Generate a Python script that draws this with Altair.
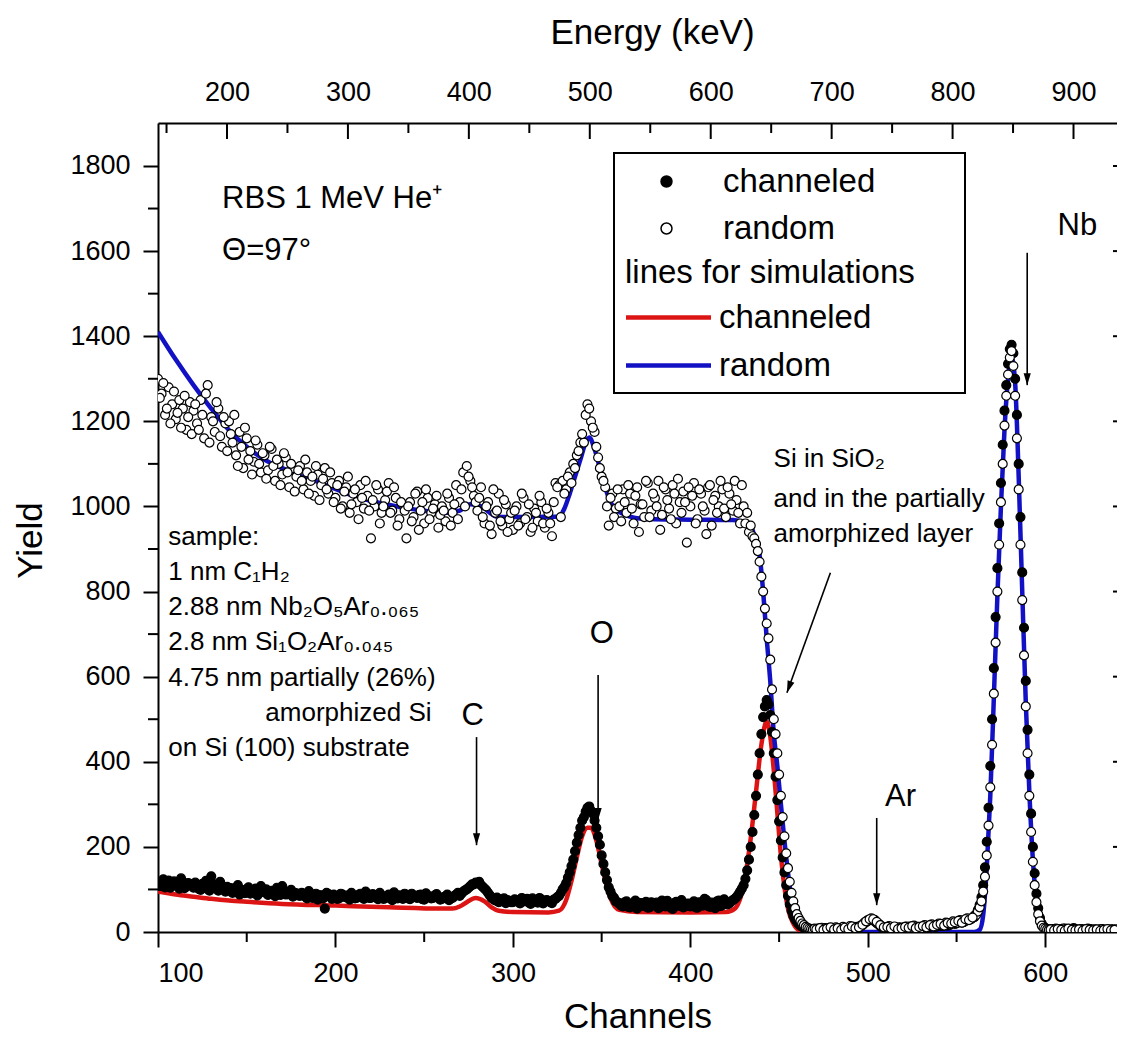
import altair as alt
import pandas as pd

FONT = "Liberation Sans"

# ---------------- data ----------------
# measured spectra, even channels (every channel on the steep edges)
meas_ch = (list(range(100, 430, 2)) + list(range(430, 470)) + list(range(470, 562, 2))
           + list(range(561, 602)) + list(range(602, 642, 2)))
# measured spectra, odd channels of the flat parts
meas_ch_odd = list(range(101, 430, 2)) + list(range(471, 560, 2)) + list(range(603, 640, 2))

random_yield = [
    1300, 1265, 1215, 1280, 1240, 1205, 1250, 1230, 1180, 1245,
    1225, 1195, 1250, 1160, 1285, 1210, 1175, 1230, 1140, 1195,
    1200, 1150, 1120, 1175, 1090, 1160, 1130, 1105, 1145, 1080,
    1120, 1085, 1135, 1060, 1100, 1075, 1115, 1045, 1090, 1070,
    1095, 1040, 1080, 1060, 1025, 1075, 1050, 1090, 1030, 1055,
    1020, 1060, 1000, 1045, 985, 1030, 1010, 1050, 995, 1025,
    925, 1000, 1040, 985, 1015, 1055, 990, 1020, 970, 1005,
    925, 1010, 975, 1035, 990, 960, 1020, 985, 1005, 950,
    1000, 965, 1020, 985, 1050, 1010, 1080, 1095, 1060, 1025,
    990, 1045, 960, 1010, 935, 985, 1030, 955, 1005, 970,
    945, 1000, 960, 1020, 975, 940, 995, 965, 1010, 950,
    985, 930, 1055, 1050, 1060, 1040, 1080, 1100, 1120, 1150,
    1150, 1240, 1200, 1175, 1115, 1070, 1045, 955, 1030, 995,
    1000, 1040, 985, 1030, 960, 1045, 1005, 975, 1055, 990,
    1020, 1060, 980, 1040, 995, 1050, 960, 1010, 1035, 915,
    1000, 1055, 970, 1030, 990, 1045, 955, 1025, 1000, 1040,
    975, 1030, 990, 1015, 960,
    # 430-469
    1000, 960, 985, 940, 955, 930, 925, 912, 895, 870,
    835, 800, 760, 725, 690, 640, 570, 500, 465, 420,
    370, 320, 270, 225, 185, 150, 118, 92, 72, 56,
    42, 33, 26, 20, 16, 12, 10, 8, 7, 6,
    # 470-560 step 2
    8, 5, 10, 6, 9, 4, 11, 7, 12, 8, 14, 10, 12, 15, 22, 28, 32, 28, 20, 13,
    9, 14, 8, 11, 6, 10, 13, 8, 15, 11, 9, 16, 12, 18, 14, 20, 16, 22, 18, 25,
    21, 28, 24, 32, 30, 38,
    # 561-601
    40, 48, 58, 72, 95, 130, 180, 250, 340, 440,
    560, 680, 800, 910, 1010, 1100, 1190, 1260, 1310, 1350,
    1365, 1330, 1260, 1160, 1040, 910, 780, 650, 530, 420,
    320, 235, 165, 110, 70, 42, 25, 15, 10, 8, 6,
    # 602-640 step 2
    5, 7, 4, 6, 8, 5, 3, 6, 4, 7, 5, 3, 6, 4, 5, 7, 3, 5, 4, 6,
]
random_yield_odd = [
    1255, 1290, 1230, 1195, 1270, 1220, 1185, 1260, 1210, 1170,
    1240, 1180, 1215, 1265, 1150, 1200, 1245, 1165, 1210, 1130,
    1170, 1215, 1095, 1140, 1185, 1110, 1075, 1155, 1100, 1125,
    1065, 1140, 1095, 1110, 1050, 1125, 1080, 1100, 1035, 1085,
    1060, 1110, 1030, 1070, 1095, 1015, 1065, 1040, 1080, 1010,
    1050, 995, 1035, 1070, 1005, 1040, 970, 1020, 1060, 990,
    1015, 1050, 960, 1000, 1035, 985, 1045, 955, 1010, 990,
    1000, 965, 1030, 945, 1010, 1040, 970, 995, 1025, 980,
    990, 1030, 955, 1005, 970, 1040, 1000, 1070, 1045, 1010,
    1020, 975, 1000, 955, 1040, 990, 965, 1015, 940, 985,
    990, 955, 1030, 970, 1005, 950, 985, 1025, 960, 995,
    960, 1010, 1045, 975, 1030, 1070, 1055, 1090, 1130, 1170,
    1215, 1230, 1185, 1140, 1090, 1060, 1000, 1020, 975, 1040,
    965, 1010, 1050, 995, 1025, 940, 1005, 1060, 975, 1030,
    1000, 945, 1045, 1015, 970, 1030, 1065, 985, 1010, 1045,
    1025, 960, 1040, 1000, 935, 1050, 1015, 985, 1060, 995,
    1045, 1005, 1060, 985, 1050,
    # 471-559 step 2
    6, 9, 5, 8, 11, 6, 9, 5, 10, 7, 13, 9, 11, 17, 25, 30, 30, 24, 16, 11,
    12, 9, 13, 7, 9, 12, 10, 14, 9, 12, 14, 11, 16, 13, 17, 19, 15, 21, 20, 23,
    26, 22, 30, 28, 34,
    # 603-639 step 2
    6, 4, 7, 5, 3, 8, 5, 4, 6, 3, 7, 5, 4, 6, 3, 5, 7, 4, 5,
]

channeled_yield = [
    112, 118, 105, 121, 109, 115, 102, 117, 108, 113,
    104, 110, 99, 106, 101, 131, 112, 97, 108, 95,
    98, 92, 104, 88, 95, 101, 90, 96, 86, 108,
    93, 87, 97, 84, 90, 108, 88, 94, 83, 91,
    85, 90, 79, 88, 82, 76, 86, 55, 89, 78,
    84, 79, 88, 81, 76, 86, 80, 90, 78, 83,
    80, 86, 77, 84, 79, 88, 75, 82, 86, 78,
    83, 77, 85, 80, 88, 76, 82, 79, 86, 81,
    78, 84, 75, 80, 88, 85, 95, 100, 108, 112,
    115, 110, 102, 92, 80, 74, 70, 76, 68, 73,
    70, 75, 67, 72, 78, 66, 74, 69, 76, 71,
    73, 68, 78, 85, 100, 115, 140, 170, 210, 245,
    270, 292, 285, 262, 225, 180, 140, 105, 85, 72,
    66, 60, 72, 58, 64, 55, 68, 61, 57, 70,
    63, 56, 74, 60, 67, 54, 71, 62, 58, 66,
    60, 72, 57, 65, 78, 61, 69, 56, 74, 63,
    70, 68, 75, 82, 95,
    # 430-469
    110, 125, 145, 170, 200, 235, 275, 320, 370, 420,
    465, 505, 530, 545, 535, 510, 470, 420, 365, 310,
    260, 215, 175, 140, 110, 85, 65, 50, 38, 30,
    24, 19, 15, 12, 10, 9, 8, 7, 6, 6,
    # 470-560 step 2
    6, 8, 5, 9, 4, 7, 10, 6, 8, 5, 9, 12, 8, 14, 20, 26, 30, 25, 18, 11,
    8, 12, 6, 9, 11, 7, 10, 13, 8, 12, 9, 14, 11, 15, 12, 17, 14, 19, 16, 22,
    20, 25, 23, 28, 30, 35,
    # 561-601
    42, 52, 64, 82, 110, 152, 212, 292, 390, 500,
    620, 740, 855, 960, 1055, 1145, 1225, 1285, 1335, 1370,
    1380, 1360, 1300, 1215, 1100, 975, 845, 715, 590, 475,
    370, 278, 200, 138, 90, 56, 33, 20, 13, 9, 7,
    # 602-640 step 2
    6, 4, 8, 5, 7, 3, 6, 9, 4, 6, 5, 8, 4, 6, 3, 7, 5, 4, 6, 5,
]
channeled_yield_odd = [
    108, 124, 113, 104, 119, 111, 126, 103, 115, 109,
    116, 101, 113, 120, 97, 110, 104, 118, 100, 106,
    103, 96, 110, 99, 91, 105, 97, 102, 94, 99,
    100, 91, 96, 104, 87, 95, 89, 99, 92, 86,
    92, 83, 96, 80, 90, 86, 79, 92, 84, 88,
    78, 90, 83, 86, 92, 79, 87, 82, 95, 80,
    89, 83, 92, 78, 85, 81, 93, 79, 84, 90,
    79, 90, 82, 87, 77, 91, 84, 80, 89, 76,
    82, 88, 79, 85, 92, 90, 98, 104, 112, 116,
    118, 106, 98, 86, 77, 81, 72, 79, 75, 70,
    77, 71, 80, 73, 69, 79, 72, 80, 67, 75,
    70, 76, 82, 92, 106, 128, 155, 190, 228, 262,
    283, 295, 278, 245, 205, 160, 122, 95, 80, 70,
    62, 70, 59, 66, 74, 60, 65, 71, 58, 64,
    69, 59, 65, 73, 57, 68, 62, 75, 60, 67,
    66, 58, 70, 62, 75, 59, 67, 72, 61, 77,
    65, 72, 78, 88, 102,
    # 471-559 step 2
    7, 5, 8, 6, 9, 5, 8, 7, 6, 10, 8, 11, 10, 16, 23, 28, 27, 21, 14, 9,
    10, 7, 11, 8, 6, 12, 9, 11, 10, 8, 13, 10, 12, 16, 13, 15, 18, 15, 21, 19,
    24, 22, 26, 29, 33,
    # 603-639 step 2
    4, 7, 5, 6, 8, 4, 5, 7, 3, 6, 4, 7, 5, 3, 6, 4, 5, 6, 4,
]

# simulations
sim_chan_ch = [100, 110, 120, 130, 140, 150, 170, 200, 230, 260,
               266, 270, 274, 279, 284, 288, 292, 300, 320, 326,
               330, 333, 336, 339, 342, 344, 347, 350, 353, 356,
               360, 370, 400, 420, 425, 430, 434, 437, 440, 443,
               445, 447, 449, 451, 453, 455, 458, 461, 465, 470]
sim_chan_y = [95, 88, 83, 78, 74, 71, 66, 62, 58, 55,
              55, 60, 70, 80, 72, 58, 50, 47, 46, 50,
              75, 120, 175, 225, 245, 245, 215, 160, 105, 70,
              52, 47, 46, 47, 55, 110, 220, 330, 440, 495,
              460, 380, 280, 180, 105, 55, 20, 5, 1, 0]

sim_rand_ch = [100, 110, 120, 130, 141, 150, 160, 170, 180, 190,
               197, 210, 225, 240, 250, 263, 270, 276, 282, 291,
               300, 326, 329, 332, 335, 338, 341, 343, 346, 349,
               352, 355, 358, 362, 366, 370, 380, 400, 424, 430,
               433, 435, 437, 439, 441, 443, 445, 447, 449, 451,
               453, 455, 457, 459, 461, 464, 468, 480, 520, 560,
               563, 565, 567, 569, 571, 573, 575, 577, 579, 581,
               583, 585, 587, 589, 591, 593, 595, 597, 599, 602, 641]
sim_rand_y = [1410, 1345, 1285, 1230, 1175, 1140, 1110, 1090, 1072, 1058,
              1046, 1025, 1008, 996, 990, 985, 990, 1005, 1000, 976,
              975, 976, 995, 1030, 1070, 1110, 1150, 1162, 1135, 1090,
              1045, 1010, 993, 983, 976, 972, 970, 969, 968, 963,
              955, 945, 915, 885, 800, 690, 590, 467, 390, 300,
              215, 140, 80, 40, 15, 3, 0, 0, 0, 0,
              5, 40, 150, 320, 550, 790, 1000, 1180, 1300, 1350,
              1290, 1070, 800, 540, 330, 170, 70, 25, 8, 0, 0]

assert len(meas_ch) == len(random_yield) == len(channeled_yield)
assert len(meas_ch_odd) == len(random_yield_odd) == len(channeled_yield_odd)
assert len(sim_chan_ch) == len(sim_chan_y)
assert len(sim_rand_ch) == len(sim_rand_y)

x_ticks = [100, 200, 300, 400, 500, 600]
x_minor = [150, 250, 350, 450, 550]
y_ticks = [0, 200, 400, 600, 800, 1000, 1200, 1400, 1600, 1800]
y_minor = [100, 300, 500, 700, 900, 1100, 1300, 1500, 1700]
e_ticks = [200, 300, 400, 500, 600, 700, 800, 900]
e_minor = [150, 250, 350, 450, 550, 650, 750, 850]

CH_DOMAIN = [100, 640.4]
E_DOMAIN = [142.95, 935.96]   # energy calibration of the top axis
Y_DOMAIN = [0, 1901]

# annotations (data coordinates)
left_texts = [
    (136.1, 1701, "RBS 1 MeV He⁺", 31),
    (136.1, 1579, "Θ=97°", 31),
    (105.8, 909, "sample:", 26),
    (105.8, 827, "1 nm C₁H₂", 26),
    (105.8, 745, "2.88 nm Nb₂O₅Ar₀.₀₆₅", 26),
    (105.8, 663, "2.8 nm Si₁O₂Ar₀.₀₄₅", 26),
    (105.8, 578, "4.75 nm partially (26%)", 26),
    (160.5, 496, "amorphized Si", 26),
    (105.8, 414, "on Si (100) substrate", 26),
    (446.9, 1093, "Si in SiO₂", 26),
    (446.9, 999, "and in the partially", 26),
    (446.9, 916, "amorphized layer", 26),
]
center_texts = [
    (277.3, 486, "C", 31),
    (350.1, 679, "O", 31),
    (518.4, 296, "Ar", 31),
    (618.1, 1638, "Nb", 31),
]
arrows = [  # ch_start, y_start, ch_end, y_end, head angle
    (279.5, 458, 279.5, 204, 0),
    (348.0, 604, 348.0, 263, 0),
    (505.0, 268, 505.0, 63, 0),
    (589.8, 1596, 589.8, 1285, 0),
    (478.9, 844, 454.4, 562, 19.9),
]

# ---------------- chart ----------------
W, H = 959, 809
BLACK = "black"
RED = "#dc1414"
BLUE = "#1212c4"

X = alt.X("ch:Q", scale=alt.Scale(domain=CH_DOMAIN, nice=False, zero=False),
          axis=alt.Axis(values=x_ticks, format="d", title="Channels", tickSize=15,
                        labelPadding=13, labelFontSize=27, titleFontSize=35,
                        titleFontWeight="normal", titleY=95, titleBaseline="alphabetic"))
Y = alt.Y("y:Q", scale=alt.Scale(domain=Y_DOMAIN, nice=False, zero=False),
          axis=alt.Axis(values=y_ticks, format="d", title="Yield", tickSize=15,
                        labelPadding=13, labelFontSize=27, titleFontSize=35,
                        titleFontWeight="normal", titleAngle=270, titleX=-128, titleY=417,
                        titleBaseline="middle", titleAlign="center"))

pts_df = pd.DataFrame({
    "ch": meas_ch + meas_ch_odd + meas_ch + meas_ch_odd,
    "y": channeled_yield + channeled_yield_odd + random_yield + random_yield_odd,
    "series": (["channeled"] * (len(meas_ch) + len(meas_ch_odd))
               + ["random"] * (len(meas_ch) + len(meas_ch_odd))),
})
sim_df = pd.DataFrame({
    "ch": sim_chan_ch + sim_rand_ch,
    "y": sim_chan_y + sim_rand_y,
    "sim": ["sim channeled"] * len(sim_chan_ch) + ["sim random"] * len(sim_rand_ch),
})

lines = alt.Chart(sim_df).mark_line(strokeWidth=4.5, interpolate="monotone", clip=True).encode(
    x=X, y=Y,
    stroke=alt.Stroke("sim:N", scale=alt.Scale(domain=["sim channeled", "sim random"], range=[RED, BLUE]),
                      legend=alt.Legend(orient="none", legendX=467, legendY=134,
                                        title="lines for simulations", titleFontSize=33,
                                        titleFontWeight="normal", titleLimit=600, titlePadding=11,
                                        labelFontSize=33, labelLimit=400, labelOffset=61,
                                        labelExpr="replace(datum.label, 'sim ', '')",
                                        symbolType="M-1.55,0H6.95", symbolSize=400,
                                        symbolStrokeWidth=4.5,
                                        rowPadding=14, padding=0)),
    order=alt.Order("ch:Q"),
)

points = alt.Chart(pts_df).mark_point(shape="circle", filled=True, size=80, stroke=BLACK,
                                      strokeWidth=1.2, opacity=1, clip=True).encode(
    x=X, y=Y,
    fill=alt.Fill("series:N", scale=alt.Scale(domain=["channeled", "random"], range=[BLACK, "white"]),
                  legend=alt.Legend(orient="none", legendX=492, legendY=42, title=None,
                                    labelFontSize=33, labelLimit=400, labelOffset=40,
                                    symbolSize=120, symbolStrokeColor=BLACK, symbolStrokeWidth=1.5,
                                    rowPadding=13, padding=0)),
)

xminor = alt.Chart(pd.DataFrame({"ch": x_minor})).mark_rule(color=BLACK, strokeWidth=2).encode(
    x=X, y=alt.value(H), y2=alt.value(H + 10))
yminor = alt.Chart(pd.DataFrame({"y": y_minor})).mark_rule(color=BLACK, strokeWidth=2).encode(
    y=Y, x=alt.value(0), x2=alt.value(-10))
yright = alt.Chart(pd.DataFrame({"y": y_ticks})).mark_rule(color=BLACK, strokeWidth=2).encode(
    y=Y, x=alt.value(W - 4), x2=alt.value(W + 8))

arr_df = pd.DataFrame(arrows, columns=["ch", "y", "ch2", "y2", "ang"])
arrow_lines = alt.Chart(arr_df).mark_rule(color=BLACK, strokeWidth=1.6).encode(
    x=X, y=Y, x2="ch2:Q", y2="y2:Q")
head_df = pd.DataFrame({"ch": arr_df["ch2"], "y": arr_df["y2"], "ang": arr_df["ang"]})
arrow_heads = alt.Chart(head_df).mark_point(shape="M0,0L-0.3,-1L0.3,-1Z", filled=True,
                                            size=576, color=BLACK, opacity=1).encode(
    x=X, y=Y, angle=alt.Angle("ang:Q", scale=None))

lt_df = pd.DataFrame(left_texts, columns=["ch", "y", "text", "fs"])
ct_df = pd.DataFrame(center_texts, columns=["ch", "y", "text", "fs"])
ltext = alt.Chart(lt_df).mark_text(align="left", baseline="alphabetic", font=FONT, color=BLACK).encode(
    x=X, y=Y, text="text:N", size=alt.Size("fs:Q", scale=None))
ctext = alt.Chart(ct_df).mark_text(align="center", baseline="alphabetic", font=FONT, color=BLACK).encode(
    x=X, y=Y, text="text:N", size=alt.Size("fs:Q", scale=None))

legend_box = alt.Chart(pd.DataFrame({"k": [0]})).mark_rect(fill="white", stroke=BLACK, strokeWidth=2).encode(
    x=alt.value(456), x2=alt.value(807), y=alt.value(30), y2=alt.value(270))

main = alt.layer(xminor, yminor, yright, lines, points, arrow_lines, arrow_heads,
                 ltext, ctext, legend_box)

E = alt.X("e:Q", scale=alt.Scale(domain=E_DOMAIN, nice=False, zero=False),
          axis=alt.Axis(orient="top", values=e_ticks, format="d", ticks=False, tickSize=0,
                        labelPadding=17, labelFontSize=27, title="Energy (keV)",
                        titleFontSize=35, titleFontWeight="normal", titleX=494, titleY=-80,
                        titleBaseline="alphabetic", titleAlign="center"))
e_major = alt.Chart(pd.DataFrame({"e": e_ticks})).mark_rule(color=BLACK, strokeWidth=2).encode(
    x=E, y=alt.value(0), y2=alt.value(16))
e_min = alt.Chart(pd.DataFrame({"e": e_minor})).mark_rule(color=BLACK, strokeWidth=2).encode(
    x=E, y=alt.value(0), y2=alt.value(10))
energy = alt.layer(e_major, e_min)

chart = alt.layer(main, energy).resolve_scale(x="independent").properties(
    width=W, height=H,
    autosize=alt.AutoSizeParams(type="none"),
    padding={"left": 150, "top": 115, "right": 0, "bottom": 106},
).configure_view(stroke=None).configure_axis(
    grid=False, domainColor=BLACK, tickColor=BLACK, labelColor=BLACK, titleColor=BLACK,
    labelFont=FONT, titleFont=FONT, domainWidth=2, tickWidth=2,
).configure_legend(
    labelFont=FONT, titleFont=FONT, labelColor=BLACK, titleColor=BLACK,
)

chart.save("out.html", embed_options={"renderer": "svg", "actions": False})
